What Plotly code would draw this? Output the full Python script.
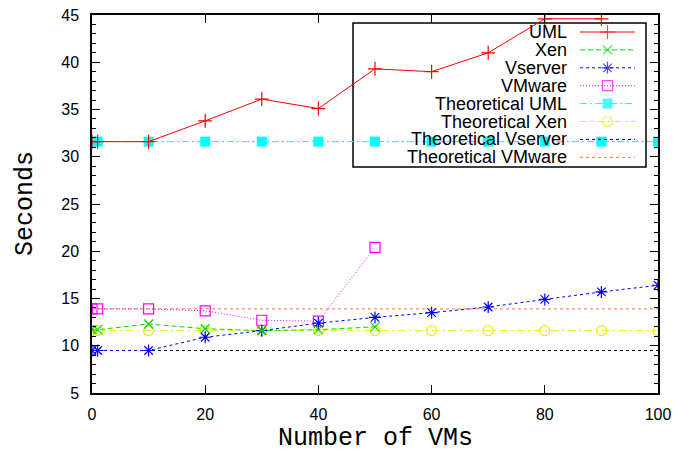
import plotly.graph_objects as go

# ---------------- data ----------------
x_uml = [0, 1, 10, 20, 30, 40, 50, 60, 70, 80, 90]
uml = [31.6, 31.6, 31.6, 33.8, 36.1, 35.1, 39.3, 39.0, 41.0, 44.6, 44.6]

x_xen = [0, 1, 10, 20, 30, 40, 50]
xen = [11.7, 11.7, 12.3, 11.8, 11.6, 11.7, 12.0]

x_vserver = [0, 1, 10, 20, 30, 40, 50, 60, 70, 80, 90, 100]
vserver = [9.5, 9.5, 9.5, 10.9, 11.6, 12.4, 13.0, 13.5, 14.1, 14.9, 15.7, 16.4]

x_vmware = [0, 1, 10, 20, 30, 40, 50]
vmware = [13.9, 13.9, 13.9, 13.7, 12.7, 12.6, 20.4]

x_theory = [0, 1, 10, 20, 30, 40, 50, 60, 70, 80, 90, 100]
theory_uml = [31.6] * len(x_theory)
theory_xen = [11.6] * len(x_theory)
theory_vserver = [9.5] * len(x_theory)
theory_vmware = [13.9] * len(x_theory)

series_names = ["UML", "Xen", "Vserver", "VMware", "Theoretical UML",
                "Theoretical Xen", "Theoretical Vserver", "Theoretical VMware"]
x_ticks = [0, 20, 40, 60, 80, 100]
y_ticks = [5, 10, 15, 20, 25, 30, 35, 40, 45]

# ---------------- styles ----------------
styles = [
    dict(color="#ff0000", dash="solid", symbol="cross-thin-open", size=10, mode="lines+markers"),
    dict(color="#00dd00", dash="5px,3px", symbol="x-thin-open", size=9, mode="lines+markers"),
    dict(color="#0000ff", dash="3px,3px", symbol="asterisk-open", size=10, mode="lines+markers"),
    dict(color="#ff00ff", dash="1px,2px", symbol="square-open", size=10, mode="lines+markers"),
    dict(color="#00ffff", dash="7px,3px,2px,3px", symbol="square", size=10, mode="lines+markers"),
    dict(color="#eeee00", dash="7px,4px,2px,4px", symbol="circle-open", size=10, mode="lines+markers"),
    dict(color="#000000", dash="3px,3px", symbol="circle", size=0, mode="lines"),
    dict(color="#ff7040", dash="3px,3px", symbol="circle", size=0, mode="lines"),
]

xs = [x_uml, x_xen, x_vserver, x_vmware, x_theory, x_theory, x_theory, x_theory]
ys = [uml, xen, vserver, vmware, theory_uml, theory_xen, theory_vserver, theory_vmware]

fig = go.Figure()

draw_order = [7, 6, 5, 4, 3, 2, 1, 0]
for i in draw_order:
    st = styles[i]
    filled = not st["symbol"].endswith("open")
    fig.add_trace(go.Scatter(
        x=xs[i], y=ys[i], name=series_names[i], mode=st["mode"],
        line=dict(color=st["color"], width=1, dash=st["dash"]),
        marker=dict(symbol=st["symbol"], size=st["size"],
                    color=st["color"],
                    line=dict(color=st["color"], width=0 if filled else 1.2)),
        showlegend=False, cliponaxis=True,
    ))

# ---------------- plot geometry (pixels) ----------------
W, H = 698, 451
L, R, T, B = 92, 658, 15, 393


def px_x(p):
    return (p - L) / (R - L)


def px_y(p):
    return (B - p) / (B - T)


# ---------------- gnuplot-style key ----------------
key_left, key_right, key_top, key_bottom = 353, 646, 23, 167
text_right = 569
sample_x0, sample_x1 = 580, 635
row0, row_step = 32, 17.9

fig.add_shape(type="rect", xref="x domain", yref="y domain",
              x0=px_x(key_left), x1=px_x(key_right),
              y0=px_y(key_bottom), y1=px_y(key_top),
              line=dict(color="black", width=1.5), fillcolor="rgba(0,0,0,0)",
              layer="below")

for i, name in enumerate(series_names):
    st = styles[i]
    ry = px_y(row0 + i * row_step)
    fig.add_annotation(x=px_x(text_right), y=ry, xref="x domain", yref="y domain",
                       text=name, showarrow=False, xanchor="right", yanchor="middle",
                       font=dict(family="Liberation Sans", size=18, color="black"))
    filled = not st["symbol"].endswith("open")
    fig.add_trace(go.Scatter(
        x=[px_x(sample_x0), px_x((sample_x0 + sample_x1) / 2), px_x(sample_x1)],
        y=[ry, ry, ry], xaxis="x2", yaxis="y2", mode=st["mode"],
        line=dict(color=st["color"], width=1, dash=st["dash"]),
        marker=dict(symbol=st["symbol"], size=[0, st["size"], 0], color=st["color"],
                    line=dict(color=st["color"], width=0 if filled else 1.2)),
        showlegend=False, hoverinfo="skip",
    ))

# ---------------- axis titles ----------------
fig.add_annotation(text="Number of VMs", x=0.5, y=px_y(438), xref="paper", yref="paper",
                   showarrow=False, xanchor="center", yanchor="middle",
                   font=dict(family="Liberation Mono", size=25, color="black"))
fig.add_annotation(text="Seconds", x=px_x(25), y=px_y(204), xref="paper", yref="paper",
                   showarrow=False, xanchor="center", yanchor="middle", textangle=-90,
                   font=dict(family="Liberation Mono", size=25, color="black"))

axis_common = dict(showline=True, linecolor="black", linewidth=1.5, mirror="ticks",
                   ticks="inside", tickcolor="black", tickwidth=1.2, ticklen=8,
                   showgrid=False, zeroline=False,
                   tickfont=dict(family="Liberation Sans", size=16, color="black"))

minor_y = dict(dtick=1, ticks="inside", ticklen=4, tickcolor="black", tickwidth=1)

fig.update_layout(
    width=W, height=H,
    margin=dict(l=L, r=W - R, t=T, b=H - B, autoexpand=False),
    paper_bgcolor="white", plot_bgcolor="white",
    xaxis=dict(range=[0, 100], tickvals=x_ticks, ticklabelstandoff=6, **axis_common),
    yaxis=dict(range=[5, 45], tickvals=y_ticks, ticklabelstandoff=8,
               minor=minor_y, **axis_common),
    xaxis2=dict(overlaying="x", range=[0, 1], visible=False, fixedrange=True),
    yaxis2=dict(overlaying="y", range=[0, 1], visible=False, fixedrange=True),
    yaxis3=dict(overlaying="y", side="right", range=[5, 45], tickvals=y_ticks,
                showticklabels=False, ticks="inside", ticklen=8, tickwidth=1.2,
                tickcolor="black", showgrid=False, zeroline=False, showline=False,
                minor=minor_y),
    showlegend=False,
)

# dummy invisible trace so the right-hand mirrored axis is rendered
fig.add_trace(go.Scatter(x=[None], y=[None], yaxis="y3", showlegend=False, hoverinfo="skip"))

fig.write_html("out.html")
